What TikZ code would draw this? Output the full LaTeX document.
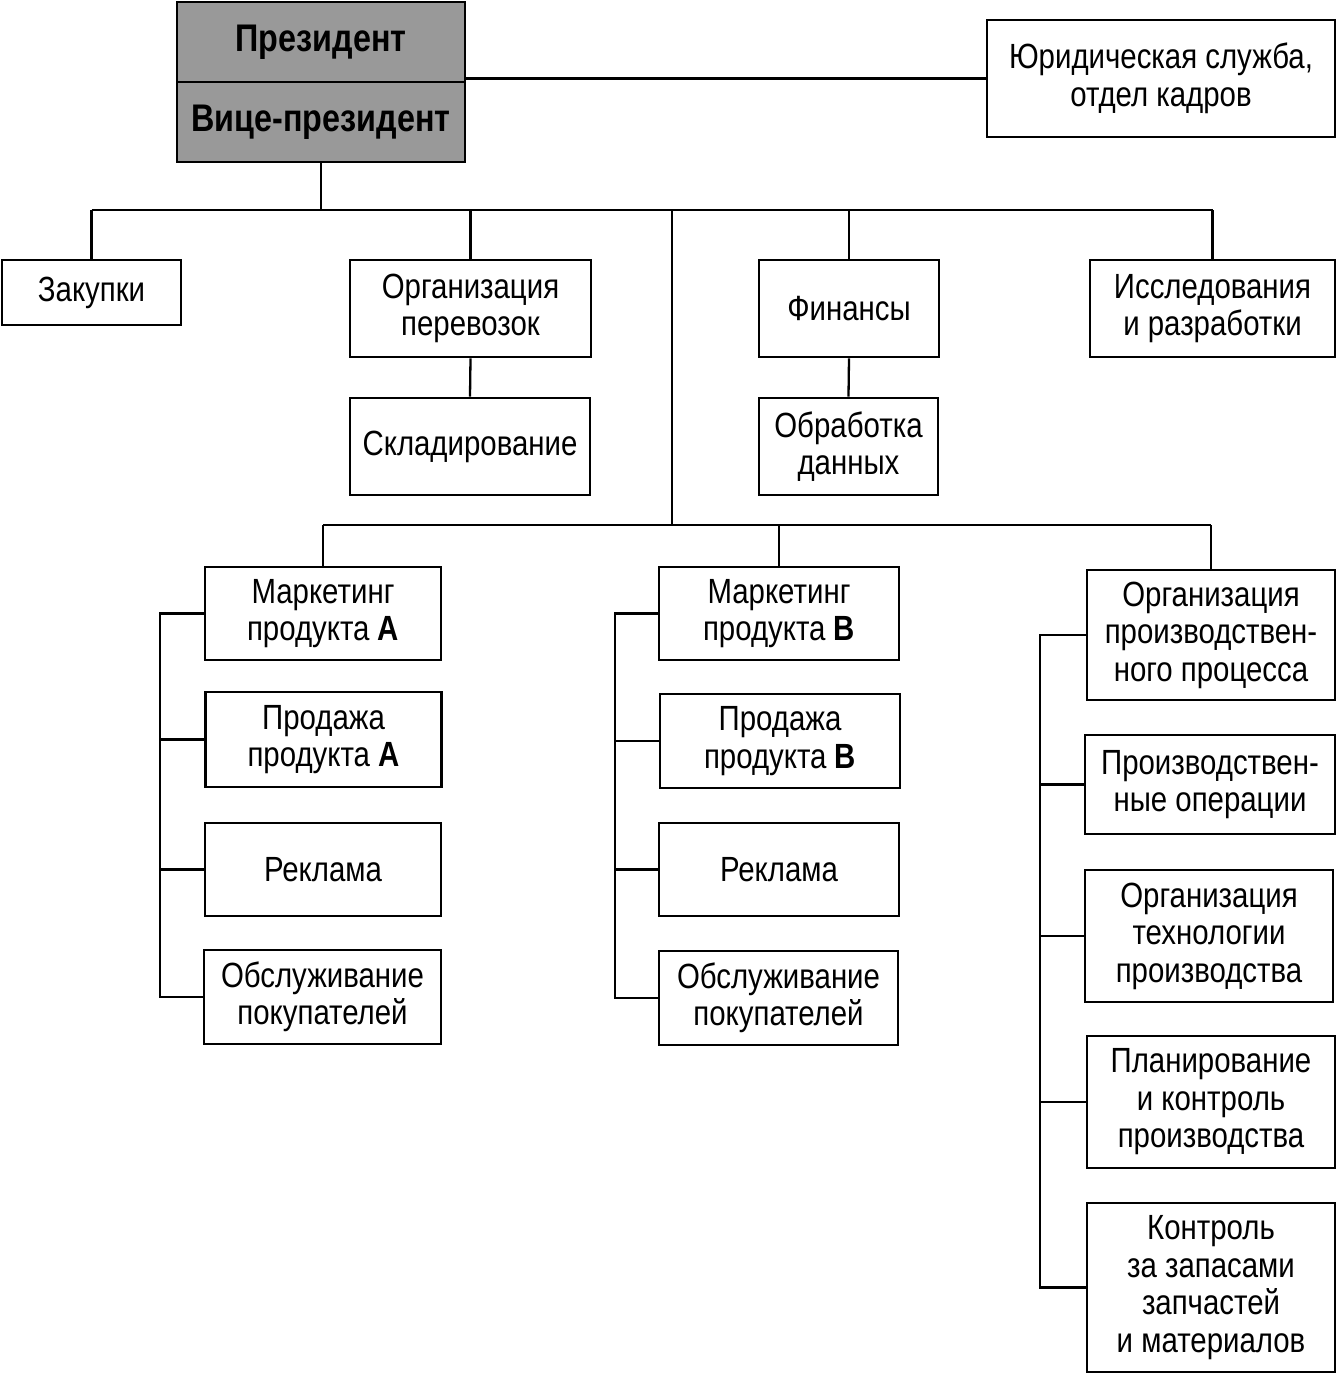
\documentclass[tikz,border=0pt]{standalone}
\usepackage{fontspec}
\newfontfamily\narrowsf[FakeStretch=0.84]{Liberation Sans}
\usetikzlibrary{positioning}

\tikzset{
  unit/.style={draw, line width=2.9pt, align=center, inner sep=0pt,
    font=\narrowsf\fontsize{35}{37.5}\selectfont},
  head/.style={unit, fill=black!40, minimum width=288, minimum height=80,
    font=\narrowsf\bfseries\fontsize{38.5}{40}\selectfont},
  link/.style={line width=2.3pt},
}

\begin{document}
\begin{tikzpicture}[x=1pt,y=-1pt]
   \useasboundingbox (0,0) rectangle (1340,1376);
   % top level
   \node[head] (pres) at (321,42) {\raisebox{-4pt}{Президент}};
   \node[head] (vice) at (321,122) {Вице-президент};
   \node[unit,minimum width=348,minimum height=117] (legal) at (1161,78.5) {Юридическая служба,\\отдел кадров};
   % departments
   \node[unit,minimum width=179,minimum height=65] (zak) at (91.5,292.5) {Закупки};
   \node[unit,minimum width=241,minimum height=97] (perev) at (470.5,308.5) {Организация\\перевозок};
   \node[unit,minimum width=240,minimum height=97] (sklad) at (470,446.5) {Складирование};
   \node[unit,minimum width=180,minimum height=97] (fin) at (849,308.5) {Финансы};
   \node[unit,minimum width=179,minimum height=97] (obr) at (848.5,446.5) {Обработка\\данных};
   \node[unit,minimum width=245,minimum height=97] (issl) at (1212.5,308.5) {Исследования\\и разработки};
   % product A
   \node[unit,minimum width=236,minimum height=93] (mA) at (323,613.5) {Маркетинг\\продукта \textbf{A}};
   \node[unit,minimum width=236,minimum height=95] (sA) at (323.5,739.5) {Продажа\\продукта \textbf{A}};
   \node[unit,minimum width=236,minimum height=93] (rA) at (323,869.5) {Реклама};
   \node[unit,minimum width=237,minimum height=94] (oA) at (322.5,997) {Обслуживание\\покупателей};
   % product B
   \node[unit,minimum width=240,minimum height=93] (mB) at (779,613.5) {Маркетинг\\продукта \textbf{B}};
   \node[unit,minimum width=240,minimum height=94] (sB) at (780,741) {Продажа\\продукта \textbf{B}};
   \node[unit,minimum width=240,minimum height=93] (rB) at (779,869.5) {Реклама};
   \node[unit,minimum width=239,minimum height=94] (oB) at (778.5,998) {Обслуживание\\покупателей};
   % production
   \node[unit,minimum width=248,minimum height=130] (p1) at (1211,635) {Организация\\производствен-\\ного процесса};
   \node[unit,minimum width=250,minimum height=99] (p2) at (1210,784.5) {Производствен-\\ные операции};
   \node[unit,minimum width=248,minimum height=132] (p3) at (1209,936) {Организация\\технологии\\производства};
   \node[unit,minimum width=248,minimum height=132] (p4) at (1211,1102) {Планирование\\и контроль\\производства};
   \node[unit,minimum width=248,minimum height=169] (p5) at (1211,1287.5) {Контроль\\за запасами\\запчастей\\и материалов};

   \coordinate (bus) at (318,210);
   \coordinate (mid) at (672,210);
   \coordinate (bus2) at (672,525);
   \coordinate (spA) at (160,0);
   \coordinate (spB) at (615,0);
   \coordinate (spC) at (1040,0);

   \draw[link] (legal.west) -- (legal.west -| pres.east);
   \draw[link] (vice.south) -- (vice.south |- bus);
   \draw[link] (zak.north |- bus) -- (issl.north |- bus);
   \foreach \n in {zak,perev,fin,issl}
     \draw[link] (\n.north) -- (\n.north |- bus);
   \draw[link] (perev.south) -- (sklad.north);
   \draw[link] (fin.south) -- (obr.north);
   \draw[link] (mid) -- (bus2);
   \draw[link] (mA.north |- bus2) -- (p1.north |- bus2);
   \foreach \n in {mA,mB,p1}
     \draw[link] (\n.north) -- (\n.north |- bus2);
   % side spines
   \draw[link] (mA.west) -- (mA.west -| spA) |- (oA.west);
   \foreach \n in {sA,rA}
     \draw[link] (\n.west) -- (\n.west -| spA);
   \draw[link] (mB.west) -- (mB.west -| spB) |- (oB.west);
   \foreach \n in {sB,rB}
     \draw[link] (\n.west) -- (\n.west -| spB);
   \draw[link] (p1.west) -- (p1.west -| spC) |- (p5.west);
   \foreach \n in {p2,p3,p4}
     \draw[link] (\n.west) -- (\n.west -| spC);
\end{tikzpicture}
\end{document}
